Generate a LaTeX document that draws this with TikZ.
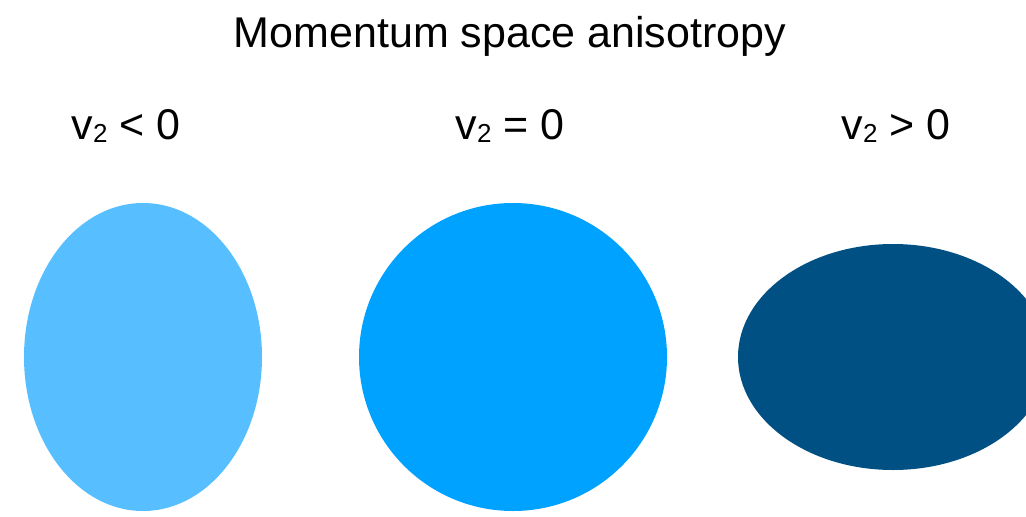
\documentclass[tikz,border=0pt]{standalone}
\usepackage{fontspec}
\setmainfont{Liberation Sans}
\definecolor{lightb}{HTML}{57BFFF}
\definecolor{midb}{HTML}{00A2FF}
\definecolor{darkb}{HTML}{005083}
\newcommand{\subtwo}{\raisebox{-3pt}{\fontsize{26}{30}\selectfont 2}}
\begin{document}
\begin{tikzpicture}[x=1pt,y=-1pt,
  lbl/.style={anchor=base,inner sep=0pt,font=\fontsize{43}{50}\selectfont},
  blob/.style={draw=none}]
\useasboundingbox (0,0) rectangle (1026,517);
\clip (0,0) rectangle (1026,517);
\node[lbl] (title) at (510,47) {Momentum space anisotropy};
\node[lbl] (neg) at (126,139) {v\subtwo{} < 0};
\node[lbl] (zero) at (510,139) {v\subtwo{} = 0};
\node[lbl] (pos) at (896,139) {v\subtwo{} > 0};
\fill[lightb] (143,357) ellipse [x radius=119, y radius=154];
\fill[midb] (513,357) circle [radius=154];
\fill[darkb] (893,357) ellipse [x radius=155, y radius=113];
\end{tikzpicture}
\end{document}
